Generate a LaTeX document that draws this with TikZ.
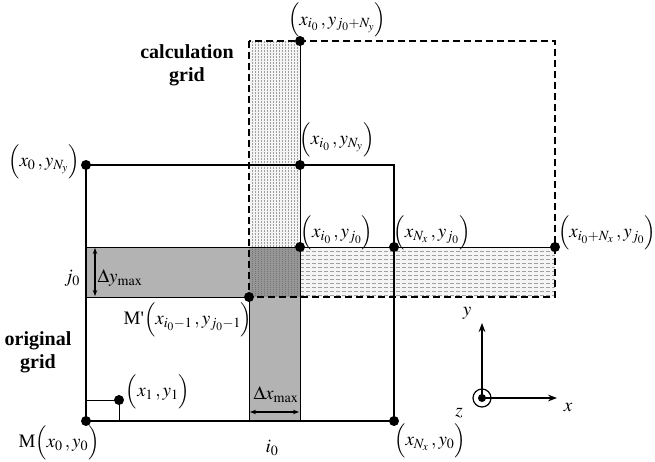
\documentclass[tikz,border=0pt]{standalone}
\usepackage{mathptmx}
\usepackage[no-math]{fontspec}
\setmainfont{Liberation Serif}
\usepackage{tikz}
\usetikzlibrary{arrows.meta}
\definecolor{bandgray}{RGB}{179,179,179}
\definecolor{overgray}{RGB}{150,150,150}
\definecolor{texgray}{RGB}{160,160,160}
\definecolor{texfill}{RGB}{244,244,244}
\newcommand{\pt}[2]{\Bigl(#1\,,#2\Bigr)}

\begin{document}
\begin{tikzpicture}[
    x=1pt,y=-1pt,
    font=\fontsize{19}{23}\selectfont,
    dot/.style={circle,fill=black,inner sep=0pt,minimum size=10pt},
    lbl/.style={inner sep=0pt},
    gridtitle/.style={inner sep=0pt,align=center,font=\fontsize{20}{23}\selectfont\bfseries},
    origgrid/.style={line width=2pt},
    calcgrid/.style={line width=2.4pt,dash pattern=on 7pt off 4pt},
    bandline/.style={line width=0.8pt},
    vtex/.style={draw=texgray,line width=0.4pt,dash pattern=on 2pt off 1pt},
    htex/.style={draw=texgray,line width=0.4pt,dash pattern=on 4pt off 2pt},
    otex/.style={draw=black!55,line width=0.5pt,dash pattern=on 1pt off 1pt},
    dimarrow/.style={{Stealth[length=6pt]}-{Stealth[length=6pt]},line width=1.2pt},
    axis/.style={-{Stealth[length=9pt]},line width=1.5pt}
  ]
    \useasboundingbox (0,0) rectangle (655,461);

    % corners of the two grids
    \coordinate (oBL) at (86,421);
    \coordinate (oTL) at (86,165);
    \coordinate (oTR) at (394,165);
    \coordinate (oBR) at (394,421);
    \coordinate (cTL) at (249,41);
    \coordinate (cBR) at (555,297);
    \coordinate (Mp) at (249,297);
    % other points
    \coordinate (iTop) at (300,41);
    \coordinate (iNy) at (300,165);
    \coordinate (iJ) at (300,247);
    \coordinate (nxJ) at (394,247);
    \coordinate (rJ) at (555,247);
    \coordinate (iBot) at (300,421);
    \coordinate (mBot) at (249,421);
    \coordinate (jL) at (86,247);
    \coordinate (jLb) at (86,297);
    \coordinate (p11) at (119,400);
    \coordinate (p11a) at (86,400);
    \coordinate (p11b) at (119,421);

    % bands
    \fill[texfill] (cTL) rectangle (iJ);
    \fill[texfill] (iJ) rectangle (cBR);
    \fill[bandgray] (jL) rectangle (Mp);
    \fill[bandgray] (Mp) rectangle (iBot);
    \fill[overgray] (249,247) rectangle (iJ |- Mp);
    \foreach \x in {252,255,...,298}
      \draw[vtex] (\x,41) -- (\x,247);
    \foreach \x in {252,255,...,298}
      \draw[otex] (\x,247) -- (\x,297);
    \foreach \y in {251,255,...,295}
      \draw[htex] (300,\y) -- (555,\y);

    % grids
    \draw[bandline] (iTop) -- (iBot);
    \draw[bandline] (jL) -- (rJ);
    \draw[bandline] (jLb) -- (Mp);
    \draw[bandline] (Mp) -- (mBot);
    \draw[bandline] (p11a) -- (p11) -- (p11b);
    \draw[origgrid] (oBL) rectangle (oTR);
    \draw[calcgrid] (cTL) rectangle (cBR);

    % dots
    \node[dot] (dTop) at (iTop) {};
    \node[dot] (dTL) at (oTL) {};
    \node[dot] (dNy) at (iNy) {};
    \node[dot] (dIJ) at (iJ) {};
    \node[dot] (dNxJ) at (nxJ) {};
    \node[dot] (dRJ) at (rJ) {};
    \node[dot] (dMp) at (Mp) {};
    \node[dot] (dM) at (oBL) {};
    \node[dot] (dNx0) at (oBR) {};
    \node[dot] (d11) at (p11) {};

    % labels
    \node[gridtitle] (calcT) at (187,65) {calculation\\grid};
    \node[gridtitle] (origT) at (38,352) {original\\grid};
    \node[lbl,anchor=north] (lTop) at (337,3) {$\pt{x_{i_0}}{y_{j_0+N_y}}$};
    \node[lbl] (lNy) at (337,140) {$\pt{x_{i_0}}{y_{N_y}}$};
    \node[lbl] (lTL) at (44,162) {$\pt{x_0}{y_{N_y}}$};
    \node[lbl] (lIJ) at (337,233) {$\pt{x_{i_0}}{y_{j_0}}$};
    \node[lbl] (lNxJ) at (432,233) {$\pt{x_{N_x}}{y_{j_0}}$};
    \node[lbl] (lRJ) at (607,233) {$\pt{x_{i_0+N_x}}{y_{j_0}}$};
    \node[lbl] (lMp) at (188,320) {M\textquotesingle$\pt{x_{i_0-1}}{y_{j_0-1}}$};
    \node[lbl] (lM) at (59,443) {M$\pt{x_0}{y_0}$};
    \node[lbl] (lNx0) at (430,441) {$\pt{x_{N_x}}{y_0}$};
    \node[lbl] (l11) at (158,392) {$\pt{x_1}{y_1}$};
    \node[lbl] (lj0) at (72,278) {$j_0$};
    \node[lbl] (ldy) at (120,278) {$\Delta y_{\max}$};
    \node[lbl] (ldx) at (276,395) {$\Delta x_{\max}$};
    \node[lbl] (li0) at (272,448) {$i_0$};

    % band widths
    \coordinate (dyT) at (95,248);
    \coordinate (dyB) at (95,296);
    \coordinate (dxL) at (250,412);
    \coordinate (dxR) at (299,412);
    \draw[dimarrow] (dyT) -- (dyB);
    \draw[dimarrow] (dxL) -- (dxR);

    % axes
    \node[circle,draw,line width=1.2pt,minimum size=18pt,inner sep=0pt] (zc) at (482,398) {};
    \node[dot,minimum size=8pt] (zd) at (482,398) {};
    \coordinate (yTip) at (482,323);
    \coordinate (xTip) at (557,398);
    \draw[axis] (zd.center) -- (yTip);
    \draw[axis] (zd.center) -- (xTip);
    \node[lbl] (ly) at (467,313) {$y$};
    \node[lbl] (lx) at (568,407) {$x$};
    \node[lbl] (lz) at (459,413) {$z$};
  \end{tikzpicture}
\end{document}
